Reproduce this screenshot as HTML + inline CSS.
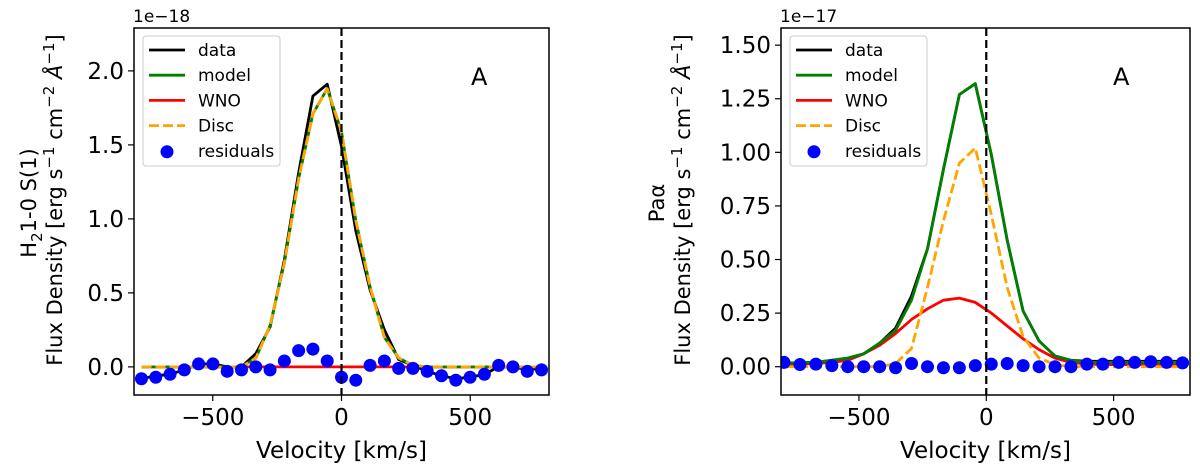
<!DOCTYPE html>
<html><head><meta charset="utf-8"><style>
body{margin:0;background:#fff;}
svg{display:block;font-family:"DejaVu Sans","Liberation Sans",sans-serif;}
</style></head><body>
<svg id="fig" width="1200" height="471" viewBox="0 0 1200 471" xmlns="http://www.w3.org/2000/svg"></svg>
<script>
// ---- Left panel data (H2 1-0 S(1), 1e-18) ----
const leftK = [-14,-13,-12,-11,-10,-9,-8,-7,-6,-5,-4,-3,-2,-1,0,1,2,3,4,5,6,7,8,9,10,11,12,13,14];
const leftStep = 55.5;
const leftData = [-0.08,-0.06,-0.05,-0.02,0.02,0.02,0,0,0.09,0.27,0.72,1.31,1.83,1.91,1.49,0.92,0.52,0.25,0.05,0.01,-0.03,-0.06,-0.08,-0.07,-0.05,0,0,-0.02,-0.01];
const leftModel = [0,0,0,0,0,0,0,0,0.06,0.28,0.70,1.27,1.71,1.88,1.59,0.99,0.54,0.20,0.06,0.01,0,0,0,0,0,0,0,0,0];
const leftWNO = [0,0,0,0,0,0,0,0,0,0,0,0,0,0,0,0,0,0,0,0,0,0,0,0,0,0,0,0,0];
const leftResid = [-0.08,-0.07,-0.05,-0.02,0.02,0.02,-0.03,-0.02,0,-0.02,0.04,0.11,0.12,0.04,-0.07,-0.09,0.01,0.04,-0.01,-0.01,-0.03,-0.06,-0.09,-0.07,-0.05,0.01,0,-0.03,-0.02];
const leftYTicks = [0.0,0.5,1.0,1.5,2.0];
const leftYLabels = ["0.0","0.5","1.0","1.5","2.0"];
// ---- Right panel data (Pa alpha, 1e-17) ----
const rightK = [-12,-11,-10,-9,-8,-7,-6,-5,-4,-3,-2,-1,0,1,2,3,4,5,6,7,8,9,10,11,12,13];
const rightStep = 62.6, rightOffset = -43;
const rightData = [0.015,0.02,0.02,0.03,0.04,0.06,0.11,0.18,0.33,0.55,0.92,1.27,1.32,0.99,0.59,0.26,0.12,0.05,0.03,0.025,0.025,0.025,0.025,0.025,0.025,0.025];
const rightModel = [0.015,0.02,0.02,0.03,0.04,0.06,0.11,0.17,0.31,0.55,0.92,1.27,1.32,0.99,0.59,0.26,0.12,0.05,0.03,0.02,0.02,0.02,0.02,0.02,0.02,0.02];
const rightWNO = [0.01,0.012,0.015,0.02,0.03,0.06,0.10,0.155,0.22,0.27,0.31,0.32,0.30,0.25,0.19,0.13,0.08,0.04,0.02,0.012,0.01,0.01,0.01,0.01,0.01,0.01];
const rightDisc = [0,0,0,0,0,0,0,0.015,0.085,0.37,0.68,0.95,1.02,0.71,0.37,0.14,0.04,0.01,0,0,0,0,0,0,0,0];
const rightResid = [0.02,0.01,0.012,0.005,0,0,0,-0.005,0.015,0,-0.005,-0.005,0.005,0.012,0.015,0.005,0,0,0,0.012,0.012,0.02,0.02,0.023,0.02,0.018];
const rightYTicks = [0.0,0.25,0.5,0.75,1.0,1.25,1.5];
const rightYLabels = ["0.00","0.25","0.50","0.75","1.00","1.25","1.50"];
const xTicks = [-500,0,500];
const xTickLabels = ["\u2212500","0","500"];

const NS="http://www.w3.org/2000/svg";
const svg=document.getElementById('fig');
function mk(tag,attrs,parent){const e=document.createElementNS(NS,tag);for(const k in attrs)e.setAttribute(k,attrs[k]);(parent||svg).appendChild(e);return e;}

function panel(p){
  const g=mk('g',{});
  
  
  const X=v=>p.x0+(v-p.xmin)/(p.xmax-p.xmin)*(p.x1-p.x0);
  const Y=v=>p.y1-(v-p.ymin)/(p.ymax-p.ymin)*(p.y1-p.y0);
  const clip='clip-'+p.name;
  const cp=mk('clipPath',{id:clip},g); mk('rect',{x:p.x0,y:p.y0,width:p.x1-p.x0,height:p.y1-p.y0},cp);
  const plot=mk('g',{'clip-path':'url(#'+clip+')'},g);
  const vel=p.k.map(k=>k*p.step+p.off);
  function line(arr,color,nm,dash){
    const pts=arr.map((v,i)=>X(vel[i]).toFixed(1)+','+Y(v).toFixed(1)).join(' ');
    const l=mk('polyline',{points:pts,fill:'none',stroke:color,'stroke-width':2.8,'stroke-linejoin':'round'},plot);
    if(dash)l.setAttribute('stroke-dasharray',dash);
    
    
  }
  line(p.wno,'#ff0000','wno-line');
  line(p.data,'#000000','data-line');
  line(p.model,'#008000','model-line');
  line(p.disc,'#ffa500','disc-line','10,4');
  p.resid.forEach((v,i)=>{
    const c=mk('circle',{cx:X(vel[i]),cy:Y(v),r:6.5,fill:'#0000ff'},plot);
    
    
  });
  const zl=mk('line',{x1:X(0),x2:X(0),y1:p.y0,y2:p.y1,stroke:'#000','stroke-width':2.2,'stroke-dasharray':'8,4'},g);
  
  
  const fr=mk('rect',{x:p.x0,y:p.y0,width:p.x1-p.x0,height:p.y1-p.y0,fill:'none',stroke:'#000','stroke-width':1.5},g);
  
  
  xTicks.forEach((t,i)=>{
    mk('line',{x1:X(t),x2:X(t),y1:p.y1,y2:p.y1+6,stroke:'#000','stroke-width':1.2},g);
    const tx=mk('text',{x:X(t),y:p.y1+30,'font-size':23,'text-anchor':'middle'},g); tx.textContent=xTickLabels[i];
    
    
  });
  p.yt.forEach((t,i)=>{
    mk('line',{x1:p.x0-6,x2:p.x0,y1:Y(t),y2:Y(t),stroke:'#000','stroke-width':1.2},g);
    const tx=mk('text',{x:p.x0-10,y:Y(t)+8,'font-size':23,'text-anchor':'end'},g); tx.textContent=p.yl[i];
    
    
  });
  const xl=mk('text',{x:(p.x0+p.x1)/2,y:458,'font-size':23,'text-anchor':'middle'},g); xl.textContent='Velocity [km/s]';
  
  
  const ex=mk('text',{x:p.x0-1,y:22,'font-size':17},g); ex.textContent=p.exp;
  
  
  const a=mk('text',{x:p.ax,y:85,'font-size':24},g); a.textContent='A';
  
  
  const yl1=mk('text',{transform:'translate('+p.yl1x+',203) rotate(-90)','font-size':21,'text-anchor':'middle'},g);
  yl1.innerHTML=p.line1;
  
  
  const yl2=mk('text',{transform:'translate('+(p.yl1x+26)+',200) rotate(-90)','font-size':21,'text-anchor':'middle'},g);
  yl2.innerHTML='Flux Density [erg s<tspan dy="-8" font-size="15">\u22121</tspan><tspan dy="8"> cm</tspan><tspan dy="-8" font-size="15">\u22122</tspan><tspan dy="8" font-style="italic"> \u00c5</tspan><tspan dy="-8" font-size="15">\u22121</tspan><tspan dy="8">]</tspan>';
  
  
  const lg=mk('g',{},g);
  
  
  const lx=p.x0+9;
  mk('rect',{x:lx,y:36,width:137,height:130,rx:3,fill:'#fff','fill-opacity':0.8,stroke:'#ccc','stroke-width':1},lg);
  const ents=[['data','#000',0],['model','#008000',0],['WNO','#ff0000',0],['Disc','#ffa500',1],['residuals','#0000ff',2]];
  ents.forEach((e,i)=>{
    const yy=50+i*25.2;
    if(e[2]===2){mk('circle',{cx:lx+24,cy:yy+1,r:6.5,fill:e[1]},lg);}
    else{const l=mk('line',{x1:lx+6,x2:lx+42,y1:yy,y2:yy,stroke:e[1],'stroke-width':2.8},lg); if(e[2])l.setAttribute('stroke-dasharray','10,4');}
    const t=mk('text',{x:lx+55,y:yy+6,'font-size':17},lg); t.textContent=e[0];
    
    
  });
}
panel({name:'left-panel',x0:134,x1:549,y0:28,y1:395,xmin:-806,xmax:806,ymin:-0.19,ymax:2.29,k:leftK,step:leftStep,off:0,
  data:leftData,model:leftModel,wno:leftWNO,disc:leftModel,resid:leftResid,yt:leftYTicks,yl:leftYLabels,exp:'1e\u221218',ax:471,yl1x:36,
  line1:'H<tspan dy="6" font-size="15">2</tspan><tspan dy="-6">1-0 S(1)</tspan>'});
panel({name:'right-panel',x0:781,x1:1190,y0:28,y1:395,xmin:-806,xmax:800,ymin:-0.132,ymax:1.58,k:rightK,step:rightStep,off:rightOffset,
  data:rightData,model:rightModel,wno:rightWNO,disc:rightDisc,resid:rightResid,yt:rightYTicks,yl:rightYLabels,exp:'1e\u221217',ax:1113,yl1x:664,
  line1:'Pa\u03b1'});
</script>
</body></html>
